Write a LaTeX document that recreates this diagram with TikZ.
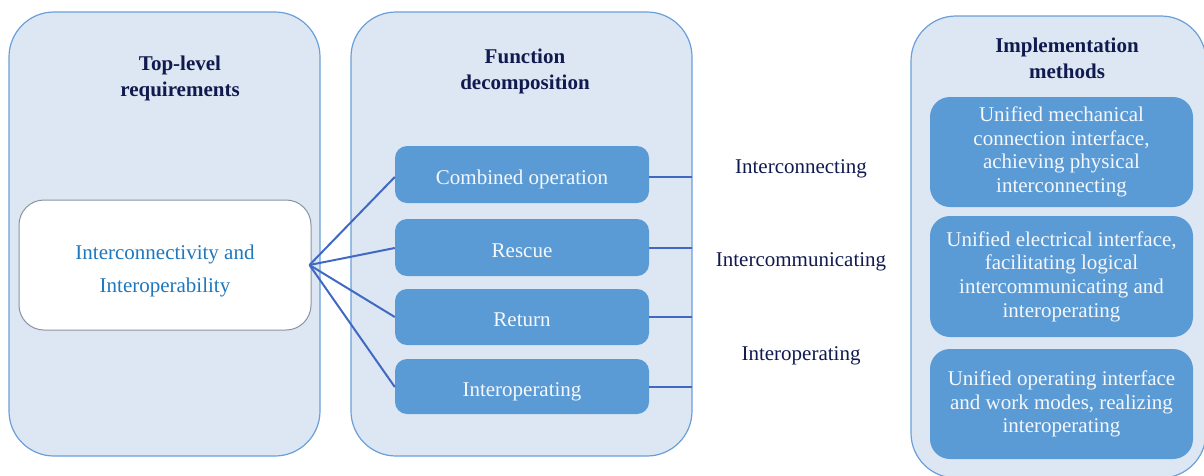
\documentclass[tikz,border=0pt]{standalone}
\usepackage{fontspec}
\setmainfont{Liberation Serif}
\definecolor{panelfill}{HTML}{DDE7F3}
\definecolor{paneldraw}{HTML}{6A9FD8}
\definecolor{boxfill}{HTML}{5B9BD5}
\definecolor{navy}{HTML}{111A4E}
\definecolor{wbtext}{HTML}{1F78BE}
\definecolor{wbdraw}{HTML}{8A949E}
\definecolor{link}{HTML}{4169C4}
\definecolor{boxtext}{HTML}{F4F7FB}
\begin{document}
\begin{tikzpicture}[x=1pt,y=-1pt,
  panel/.style={draw=paneldraw,fill=panelfill,line width=1.2pt,rounded corners=45pt,
    inner sep=0pt,anchor=center},
  fbox/.style={fill=boxfill,draw=none,rounded corners=12pt,inner sep=0pt,anchor=center,
    minimum width=254pt,text=boxtext,text height=21pt,text depth=2pt,
    font=\fontsize{21}{25}\selectfont},
  mbox/.style={fill=boxfill,draw=none,rounded corners=20pt,inner sep=0pt,anchor=center,
    minimum width=263pt,text=boxtext,align=center,font=\fontsize{21}{23.7}\selectfont},
  title/.style={text=navy,align=center,font=\fontsize{21}{26}\selectfont\bfseries},
  lbl/.style={text=navy,font=\fontsize{21}{25}\selectfont},
  conn/.style={draw=link,line width=2pt}]
\useasboundingbox (0,0) rectangle (1204,475);
\clip (0,0) rectangle (1204,475);
% panels
\node[panel,minimum width=311pt,minimum height=444pt] (lp) at (164.5,234) {};
\node[panel,minimum width=341pt,minimum height=444pt] (cp) at (521.5,234) {};
\node[panel,minimum width=295pt,minimum height=462pt] (rp) at (1058.5,247) {};
% titles
\node[title] (t1) at (180,78) {Top-level\\requirements};
\node[title] (t2) at (525,71) {Function\\decomposition};
\node[title] (t3) at (1067,58) {Implementation\\methods};
% white box
\node[draw=wbdraw,fill=white,line width=1pt,rounded corners=25pt,minimum width=292pt,
  minimum height=130pt,inner sep=0pt] (wb) at (165,265) {};
\node[text=wbtext,align=center,font=\fontsize{21}{33}\selectfont] (wbt) at (165,271)
  {Interconnectivity and\\Interoperability};
% function boxes
\node[fbox,minimum height=57pt] (f1) at (522,174.5) {Combined operation};
\node[fbox,minimum height=57pt] (f2) at (522,247.5) {Rescue};
\node[fbox,minimum height=56pt] (f3) at (522,317) {Return};
\node[fbox,minimum height=55pt] (f4) at (522,386.5) {Interoperating};
% implementation boxes
\node[mbox,minimum height=110pt] (m1) at (1061.5,152)
  {Unified mechanical\\connection interface,\\achieving physical\\interconnecting};
\node[mbox,minimum height=121pt] (m2) at (1061.5,276.5)
  {Unified electrical interface,\\facilitating logical\\intercommunicating and\\interoperating};
\node[mbox,minimum height=110pt] (m3) at (1061.5,404)
  {Unified operating interface\\and work modes, realizing\\interoperating};
% middle labels
\node[lbl] (l1) at (801,169) {Interconnecting};
\node[lbl] (l2) at (801,262) {Intercommunicating};
\node[lbl] (l3) at (801,356) {Interoperating};
% connectors
\coordinate (hub) at ([xshift=-2pt]wb.east);
\foreach \f/\y in {f1/177,f2/248,f3/317,f4/387}{
  \draw[conn] (hub) -- (\f.west |- 0,\y);
  \draw[conn] (\f.east |- 0,\y) -- ([xshift=-1pt]cp.east |- 0,\y);
}
\end{tikzpicture}
\end{document}
